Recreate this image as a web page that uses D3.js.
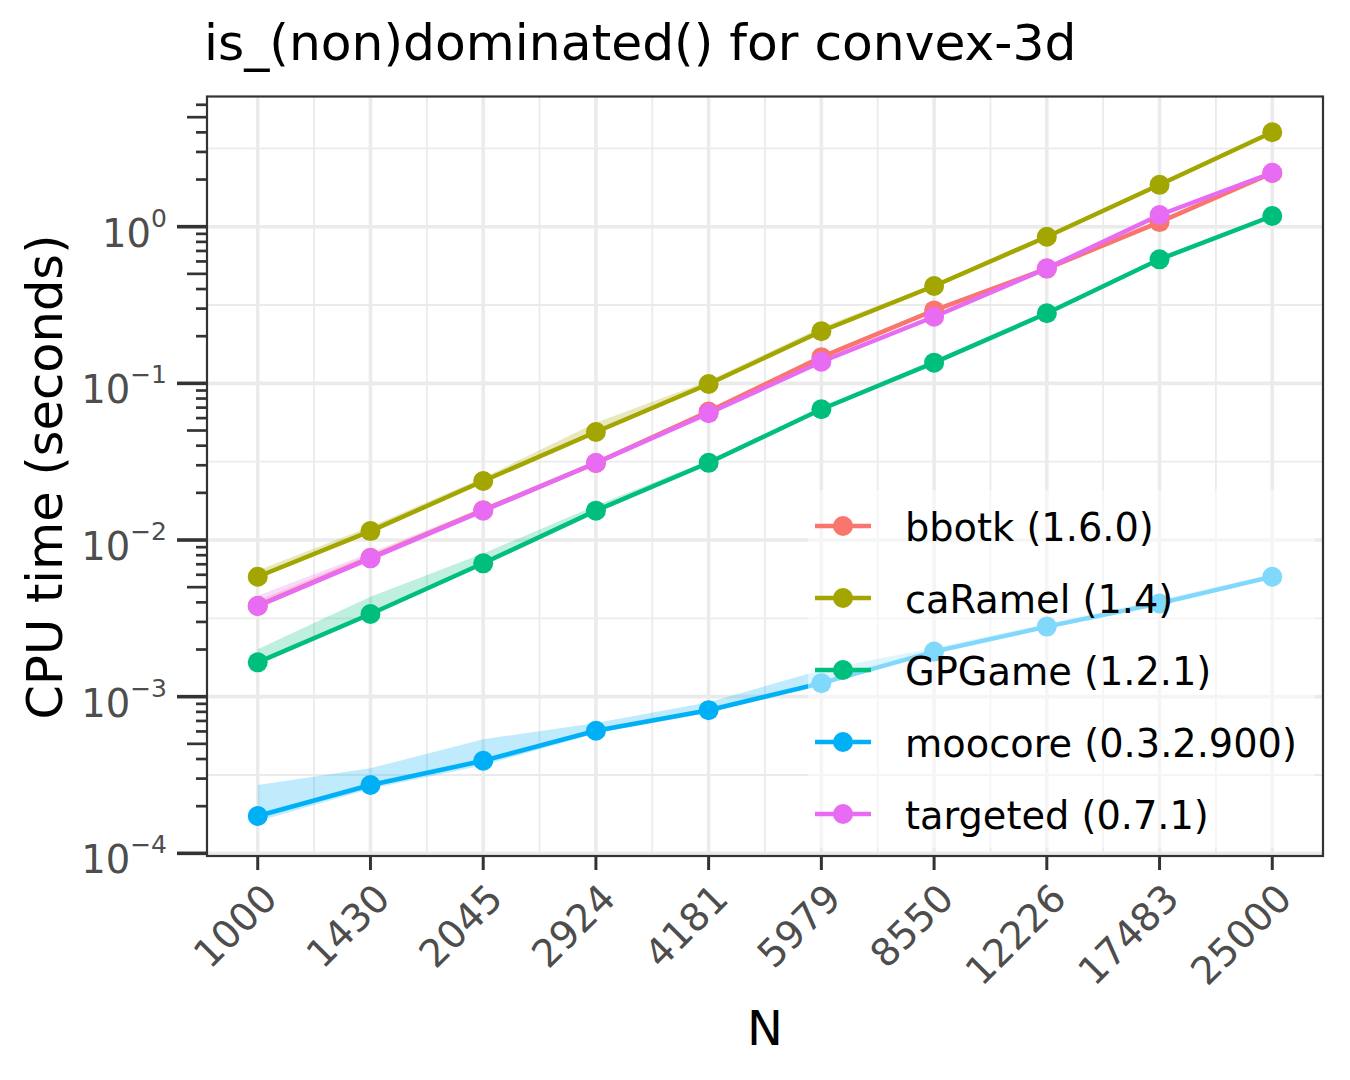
<!DOCTYPE html>
<html>
<head>
<meta charset="utf-8">
<script src="https://cdn.jsdelivr.net/npm/d3@7"></script>
<style>
  body { margin: 0; background: #fff; }
  text { font-family: "DejaVu Sans", sans-serif; }
</style>
</head>
<body>
<div id="chart"></div>
<script>
// problem sizes on the x axis
var sizes = [1000, 1430, 2045, 2924, 4181, 5979, 8550, 12226, 17483, 25000];
var packages = ["bbotk (1.6.0)", "caRamel (1.4)", "GPGame (1.2.1)", "moocore (0.3.2.900)", "targeted (0.7.1)"];
var colors = ["#F8766D", "#A3A500", "#00BF7D", "#00B0F6", "#E76BF3"];
var decades = [-4, -3, -2, -1, 0];

// median CPU time and min/max band, seconds
var bbotkTime = [0.0038, 0.0077, 0.0155, 0.031, 0.066, 0.147, 0.292, 0.54, 1.07, 2.2];
var bbotkLow  = [0.0037, 0.0075, 0.0152, 0.0303, 0.0645, 0.143, 0.285, 0.53, 1.04, 2.16];
var bbotkHigh = [0.0041, 0.0081, 0.0160, 0.0322, 0.068, 0.152, 0.300, 0.555, 1.10, 2.26];

var caramelTime = [0.00583, 0.0114, 0.0238, 0.0489, 0.099, 0.215, 0.418, 0.863, 1.85, 4.01];
var caramelLow  = [0.0057, 0.0112, 0.0234, 0.0480, 0.097, 0.211, 0.410, 0.850, 1.82, 3.95];
var caramelHigh = [0.0064, 0.0122, 0.0250, 0.0560, 0.104, 0.228, 0.430, 0.880, 1.89, 4.08];

var gpgameTime = [0.001656, 0.00337, 0.0071, 0.0154, 0.0311, 0.0683, 0.1355, 0.280, 0.619, 1.17];
var gpgameLow  = [0.00163, 0.00330, 0.00695, 0.0151, 0.0305, 0.0670, 0.133, 0.275, 0.61, 1.15];
var gpgameHigh = [0.00201, 0.00435, 0.0082, 0.0166, 0.0322, 0.0700, 0.139, 0.286, 0.63, 1.19];

var moocoreTime = [0.000173, 0.000273, 0.00039, 0.000606, 0.00082, 0.00122, 0.00194, 0.0028, 0.00394, 0.00583];
var moocoreLow  = [0.000160, 0.000258, 0.000365, 0.000585, 0.00079, 0.00118, 0.00188, 0.00272, 0.00383, 0.00570];
var moocoreHigh = [0.000273, 0.000349, 0.000535, 0.00068, 0.00092, 0.00148, 0.00205, 0.00292, 0.00415, 0.00605];

var targetedTime = [0.00379, 0.00764, 0.01538, 0.0310, 0.0644, 0.1374, 0.266, 0.542, 1.188, 2.21];
var targetedLow  = [0.0037, 0.0075, 0.0151, 0.0304, 0.0632, 0.135, 0.261, 0.533, 1.17, 2.17];
var targetedHigh = [0.0044, 0.0083, 0.0162, 0.0320, 0.0660, 0.140, 0.272, 0.552, 1.21, 2.25];

var times = [bbotkTime, caramelTime, gpgameTime, moocoreTime, targetedTime];
var lows = [bbotkLow, caramelLow, gpgameLow, moocoreLow, targetedLow];
var highs = [bbotkHigh, caramelHigh, gpgameHigh, moocoreHigh, targetedHigh];

var series = packages.map(function(name, i) {
  return {
    name: name,
    color: colors[i],
    values: sizes.map(function(n, j) {
      return {n: n, t: times[i][j], lo: lows[i][j], hi: highs[i][j]};
    })
  };
});

// panel box inside the 1350x1080 picture
var panel = {left: 207, top: 96.5, right: 1323, bottom: 856};

var svg = d3.select("#chart")
  .append("svg")
    .attr("width", 1350)
    .attr("height", 1080);

svg.append("rect")
  .attr("width", 1350).attr("height", 1080)
  .attr("fill", "#fff");

// x: log scale with ggplot's 5% expansion
var lx0 = Math.log10(sizes[0]), lx1 = Math.log10(sizes[sizes.length - 1]);
var ex = 0.05 * (lx1 - lx0);
var x = d3.scaleLog()
  .domain([Math.pow(10, lx0 - ex), Math.pow(10, lx1 + ex)])
  .range([panel.left, panel.right]);

var y = d3.scaleLog()
  .domain([Math.pow(10, -4.017), Math.pow(10, 0.831)])
  .range([panel.bottom, panel.top]);

var grid = svg.append("g");

// minor grid: midpoints in log space
var xMinor = d3.pairs(sizes).map(function(p) { return Math.sqrt(p[0] * p[1]); });
var yMinor = d3.range(-3.5, 1, 1).map(function(e) { return Math.pow(10, e); });

grid.selectAll(".xminor")
  .data(xMinor)
  .enter()
  .append("line")
    .attr("x1", function(d) { return x(d); })
    .attr("x2", function(d) { return x(d); })
    .attr("y1", panel.top).attr("y2", panel.bottom)
    .attr("stroke", "#EBEBEB").attr("stroke-width", 1.8);

grid.selectAll(".yminor")
  .data(yMinor)
  .enter()
  .append("line")
    .attr("y1", function(d) { return y(d); })
    .attr("y2", function(d) { return y(d); })
    .attr("x1", panel.left).attr("x2", panel.right)
    .attr("stroke", "#EBEBEB").attr("stroke-width", 1.8);

grid.selectAll(".xmajor")
  .data(sizes)
  .enter()
  .append("line")
    .attr("x1", function(d) { return x(d); })
    .attr("x2", function(d) { return x(d); })
    .attr("y1", panel.top).attr("y2", panel.bottom)
    .attr("stroke", "#EBEBEB").attr("stroke-width", 3.6);

grid.selectAll(".ymajor")
  .data(decades)
  .enter()
  .append("line")
    .attr("y1", function(d) { return y(Math.pow(10, d)); })
    .attr("y2", function(d) { return y(Math.pow(10, d)); })
    .attr("x1", panel.left).attr("x2", panel.right)
    .attr("stroke", "#EBEBEB").attr("stroke-width", 3.6);

// ribbons, lines, points (each layer draws all groups in order)
var area = d3.area()
  .x(function(d) { return x(d.n); })
  .y0(function(d) { return y(d.lo); })
  .y1(function(d) { return y(d.hi); });

var line = d3.line()
  .x(function(d) { return x(d.n); })
  .y(function(d) { return y(d.t); });

svg.append("g").selectAll("path")
  .data(series)
  .enter()
  .append("path")
    .attr("d", function(d) { return area(d.values); })
    .attr("fill", function(d) { return d.color; })
    .attr("fill-opacity", 0.25);

svg.append("g").selectAll("path")
  .data(series)
  .enter()
  .append("path")
    .attr("d", function(d) { return line(d.values); })
    .attr("fill", "none")
    .attr("stroke", function(d) { return d.color; })
    .attr("stroke-width", 4.5);

svg.append("g").selectAll("g")
  .data(series)
  .enter()
  .append("g")
    .attr("fill", function(d) { return d.color; })
  .selectAll("circle")
  .data(function(d) { return d.values; })
  .enter()
  .append("circle")
    .attr("cx", function(d) { return x(d.n); })
    .attr("cy", function(d) { return y(d.t); })
    .attr("r", 10);

// legend inside the panel, half transparent white box
var legend = svg.append("g");
legend.append("rect")
  .attr("x", 808).attr("y", 490)
  .attr("width", 507).attr("height", 358)
  .attr("fill", "#fff").attr("fill-opacity", 0.5);

var rows = legend.selectAll(".row")
  .data(series)
  .enter()
  .append("g")
    .attr("transform", function(d, i) { return "translate(0," + (526 + i * 72) + ")"; });

rows.append("line")
  .attr("x1", 815).attr("x2", 871)
  .attr("stroke", function(d) { return d.color; })
  .attr("stroke-width", 4.5);
rows.append("circle")
  .attr("cx", 843).attr("r", 10)
  .attr("fill", function(d) { return d.color; });
rows.append("text")
  .attr("x", 905).attr("y", 15)
  .attr("font-size", 38.3)
  .attr("fill", "#000")
  .text(function(d) { return d.name; });

// panel border
svg.append("rect")
  .attr("x", panel.left).attr("y", panel.top)
  .attr("width", panel.right - panel.left)
  .attr("height", panel.bottom - panel.top)
  .attr("fill", "none")
  .attr("stroke", "#333333").attr("stroke-width", 2.2);

// y axis: log ticks outside the panel
var logTicks = [];
decades.concat([1]).forEach(function(e) {
  for (var k = 1; k <= 9; k++) {
    var v = k * Math.pow(10, e - 1);
    if (y(v) >= panel.top - 1 && y(v) <= panel.bottom + 1) logTicks.push({v: v, k: k});
  }
});

svg.append("g").selectAll("line")
  .data(logTicks)
  .enter()
  .append("line")
    .attr("x1", function(d) { return d.k == 1 ? 177 : (d.k == 5 ? 187 : 196); })
    .attr("x2", panel.left - 1)
    .attr("y1", function(d) { return y(d.v); })
    .attr("y2", function(d) { return y(d.v); })
    .attr("stroke", "#333333")
    .attr("stroke-width", function(d) { return d.k == 1 ? 3.6 : 2.7; });

var yLabels = svg.append("g").selectAll("text")
  .data(decades)
  .enter()
  .append("text")
    .attr("x", 167)
    .attr("y", function(d) { return y(Math.pow(10, d)) + 20; })
    .attr("text-anchor", "end")
    .attr("fill", "#4D4D4D")
    .attr("font-size", 38.5);
yLabels.append("tspan").text("10");
yLabels.append("tspan")
  .attr("dy", -20)
  .attr("font-size", 25)
  .text(function(d) { return d < 0 ? "\u2212" + (-d) : String(d); });

// x axis ticks and rotated labels
svg.append("g").selectAll("line")
  .data(sizes)
  .enter()
  .append("line")
    .attr("x1", function(d) { return x(d); })
    .attr("x2", function(d) { return x(d); })
    .attr("y1", panel.bottom + 1).attr("y2", 870)
    .attr("stroke", "#333333").attr("stroke-width", 3);

svg.append("g").selectAll("text")
  .data(sizes)
  .enter()
  .append("text")
    .attr("transform", function(d) { return "translate(" + (x(d) + 2) + ",881) rotate(-45)"; })
    .attr("text-anchor", "end")
    .attr("dy", "0.72em")
    .attr("fill", "#4D4D4D")
    .attr("font-size", 38.5)
    .text(function(d) { return d; });

// titles
svg.append("text")
  .attr("x", 204).attr("y", 60)
  .attr("font-size", 50.3)
  .attr("fill", "#000")
  .text("is_(non)dominated() for convex-3d");

svg.append("text")
  .attr("transform", "translate(62,477) rotate(-90)")
  .attr("text-anchor", "middle")
  .attr("font-size", 49.5)
  .attr("fill", "#000")
  .text("CPU time (seconds)");

svg.append("text")
  .attr("x", (panel.left + panel.right) / 2).attr("y", 1045)
  .attr("text-anchor", "middle")
  .attr("font-size", 48)
  .attr("fill", "#000")
  .text("N");
</script>
</body>
</html>
